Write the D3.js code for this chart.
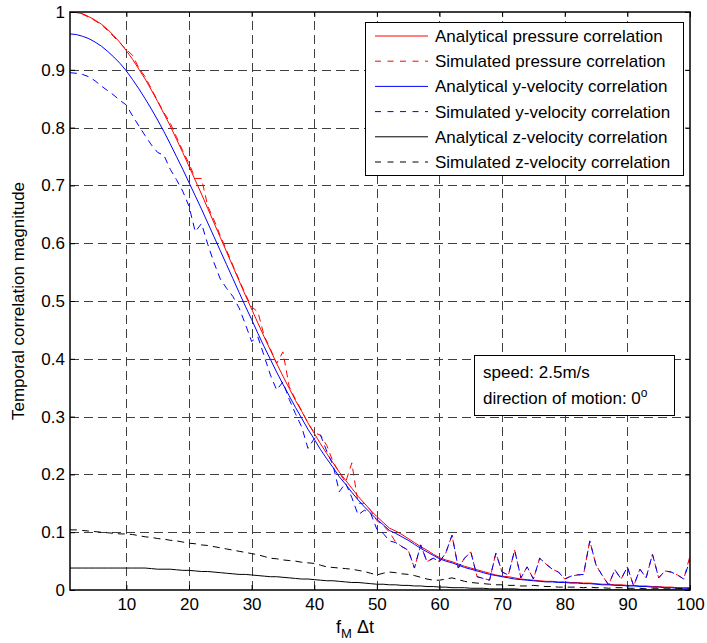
<!DOCTYPE html>
<html><head><meta charset="utf-8">
<script src="https://cdn.jsdelivr.net/npm/d3@7"></script>
<style>
body{margin:0;background:#fff;}
svg{display:block;font-family:"Liberation Sans",Arial,sans-serif;}
</style></head>
<body><svg id="c" width="707" height="643"></svg>
<script>
// ---- data ----
const lags = d3.range(1, 101);
const xTicks = [10,20,30,40,50,60,70,80,90,100];
const yTicks = [0,0.1,0.2,0.3,0.4,0.5,0.6,0.7,0.8,0.9,1];
const yTickLabels = ["0","0.1","0.2","0.3","0.4","0.5","0.6","0.7","0.8","0.9","1"];
const seriesNames = ["Analytical pressure correlation","Simulated pressure correlation","Analytical y-velocity correlation","Simulated y-velocity correlation","Analytical z-velocity correlation","Simulated z-velocity correlation"];

const analyticalPressure = [
1.000,0.999,0.997,0.992,0.986,0.979,0.970,0.959,0.947,0.933,
0.918,0.901,0.884,0.865,0.845,0.824,0.803,0.780,0.757,0.733,
0.709,0.685,0.660,0.635,0.610,0.585,0.560,0.535,0.510,0.486,
0.462,0.438,0.415,0.392,0.370,0.349,0.328,0.309,0.289,0.271,
0.253,0.236,0.220,0.204,0.190,0.176,0.162,0.150,0.138,0.127,
0.117,0.107,0.102,0.096,0.089,0.082,0.075,0.069,0.062,0.056,
0.052,0.049,0.045,0.041,0.038,0.035,0.032,0.029,0.026,0.024,
0.023,0.021,0.019,0.018,0.017,0.016,0.015,0.015,0.014,0.014,
0.013,0.013,0.012,0.012,0.011,0.010,0.010,0.009,0.009,0.008,
0.008,0.007,0.007,0.006,0.006,0.005,0.005,0.004,0.004,0.004];

const simulatedPressure = [
1.000,0.999,0.996,0.991,0.985,0.978,0.968,0.957,0.946,0.935,
0.925,0.903,0.888,0.867,0.846,0.826,0.808,0.784,0.760,0.738,
0.712,0.712,0.664,0.640,0.613,0.588,0.562,0.537,0.512,0.490,
0.481,0.440,0.417,0.392,0.412,0.352,0.330,0.310,0.289,0.272,
0.268,0.250,0.222,0.203,0.186,0.220,0.150,0.150,0.138,0.120,
0.112,0.100,0.083,0.075,0.069,0.038,0.078,0.049,0.055,0.049,
0.064,0.095,0.038,0.055,0.066,0.023,0.020,0.017,0.064,0.031,
0.026,0.069,0.021,0.040,0.019,0.055,0.045,0.036,0.031,0.019,
0.024,0.026,0.027,0.085,0.043,0.025,0.009,0.035,0.019,0.040,
0.007,0.036,0.021,0.062,0.021,0.033,0.031,0.026,0.019,0.059];

const analyticalYVelocity = [
0.962,0.961,0.958,0.954,0.948,0.941,0.932,0.922,0.911,0.898,
0.883,0.867,0.850,0.832,0.813,0.793,0.772,0.750,0.728,0.705,
0.682,0.659,0.635,0.611,0.587,0.563,0.539,0.515,0.491,0.468,
0.444,0.421,0.399,0.377,0.356,0.336,0.316,0.297,0.278,0.261,
0.243,0.227,0.212,0.196,0.183,0.169,0.156,0.144,0.133,0.122,
0.113,0.103,0.098,0.092,0.086,0.079,0.072,0.066,0.060,0.054,
0.050,0.047,0.043,0.039,0.036,0.033,0.030,0.027,0.025,0.023,
0.021,0.019,0.018,0.017,0.016,0.015,0.014,0.014,0.013,0.013,
0.012,0.012,0.011,0.011,0.010,0.009,0.009,0.008,0.008,0.007,
0.007,0.006,0.006,0.005,0.005,0.004,0.004,0.003,0.003,0.003];

const simulatedYVelocity = [
0.895,0.894,0.892,0.888,0.881,0.872,0.864,0.856,0.847,0.839,
0.820,0.803,0.786,0.770,0.757,0.752,0.728,0.710,0.690,0.664,
0.620,0.634,0.598,0.566,0.538,0.522,0.508,0.488,0.460,0.430,
0.438,0.405,0.372,0.346,0.360,0.330,0.305,0.282,0.245,0.262,
0.268,0.240,0.216,0.170,0.185,0.160,0.130,0.138,0.133,0.105,
0.098,0.085,0.082,0.075,0.069,0.038,0.078,0.049,0.055,0.049,
0.064,0.095,0.038,0.055,0.066,0.023,0.020,0.017,0.064,0.031,
0.026,0.069,0.021,0.040,0.019,0.055,0.045,0.036,0.031,0.019,
0.024,0.026,0.027,0.085,0.043,0.025,0.009,0.035,0.019,0.040,
0.007,0.036,0.021,0.062,0.021,0.033,0.031,0.026,0.019,0.052];

const analyticalZVelocity = [
0.038,0.038,0.038,0.038,0.038,0.038,0.038,0.038,0.038,0.038,
0.038,0.038,0.038,0.037,0.036,0.036,0.036,0.035,0.034,0.034,
0.033,0.032,0.032,0.031,0.030,0.029,0.028,0.027,0.027,0.026,
0.025,0.024,0.023,0.023,0.022,0.021,0.020,0.019,0.019,0.018,
0.017,0.016,0.016,0.015,0.014,0.013,0.013,0.012,0.011,0.010,
0.010,0.009,0.009,0.008,0.008,0.007,0.007,0.006,0.006,0.005,
0.005,0.004,0.004,0.004,0.003,0.003,0.003,0.002,0.002,0.002,
0.002,0.002,0.001,0.001,0.001,0.001,0.001,0.001,0.001,0.001,
0.001,0.001,0.001,0.001,0.001,0.000,0.000,0.000,0.000,0.000,
0.000,0.000,0.000,0.000,0.000,0.000,0.000,0.000,0.000,0.000];

const simulatedZVelocity = [
0.104,0.104,0.103,0.102,0.101,0.100,0.099,0.098,0.097,0.097,
0.096,0.094,0.092,0.091,0.089,0.088,0.086,0.085,0.083,0.081,
0.080,0.078,0.077,0.075,0.073,0.071,0.069,0.067,0.065,0.063,
0.061,0.058,0.055,0.054,0.052,0.051,0.050,0.048,0.047,0.046,
0.043,0.040,0.039,0.038,0.037,0.036,0.034,0.032,0.029,0.026,
0.029,0.031,0.030,0.028,0.027,0.025,0.022,0.019,0.017,0.017,
0.019,0.021,0.018,0.015,0.013,0.012,0.011,0.010,0.009,0.009,
0.008,0.008,0.007,0.007,0.008,0.007,0.006,0.006,0.005,0.005,
0.005,0.005,0.004,0.005,0.004,0.004,0.003,0.004,0.004,0.003,
0.003,0.003,0.002,0.003,0.003,0.002,0.002,0.003,0.002,0.002];

// ---- layout ----
const L = 70, R = 690, T = 12, B = 590;
const svg = d3.select("#c");
const x = d3.scaleLinear().domain([1,100]).range([L,R]);
const y = d3.scaleLinear().domain([0,1]).range([B,T]);
const fs = 17;

// grid
const grid = svg.append("g").attr("stroke","#404040").attr("stroke-width",1).attr("stroke-dasharray","9,5");
grid.selectAll(".gx").data(xTicks.filter(d=>d<100)).enter().append("line")
  .attr("x1",d=>Math.round(x(d))+0.5).attr("x2",d=>Math.round(x(d))+0.5).attr("y1",B).attr("y2",T);
grid.selectAll(".gy").data(yTicks.filter(d=>d>0&&d<1)).enter().append("line")
  .attr("y1",d=>Math.round(y(d))+0.5).attr("y2",d=>Math.round(y(d))+0.5).attr("x1",L).attr("x2",R);

// series
const specs = [
 {data:analyticalPressure, color:"#ff0000", dash:null},
 {data:simulatedPressure, color:"#ff0000", dash:"7,5"},
 {data:analyticalYVelocity, color:"#0000ff", dash:null},
 {data:simulatedYVelocity, color:"#0000ff", dash:"7,5"},
 {data:analyticalZVelocity, color:"#000000", dash:null},
 {data:simulatedZVelocity, color:"#000000", dash:"7,5"}
];
const line = d3.line().x((d,i)=>x(lags[i])).y(d=>y(d));
svg.append("clipPath").attr("id","pc").append("rect").attr("x",L).attr("y",T).attr("width",R-L).attr("height",B-T);
const lines = svg.append("g").attr("clip-path","url(#pc)");
specs.forEach(s=>{
  lines.append("path").attr("d",line(s.data)).attr("fill","none")
   .attr("stroke",s.color).attr("stroke-width",1)
   .attr("stroke-dasharray",s.dash);
});

// axes (box + ticks both sides)
const xAxB = d3.axisBottom(x).tickValues(xTicks).tickSizeInner(-5).tickSizeOuter(0).tickPadding(8);
const xAxT = d3.axisTop(x).tickValues(xTicks).tickSizeInner(-5).tickSizeOuter(0).tickFormat("");
const yAxL = d3.axisLeft(y).tickValues(yTicks).tickSizeInner(-5).tickSizeOuter(0).tickPadding(5)
   .tickFormat((d,i)=>yTickLabels[i]);
const yAxR = d3.axisRight(y).tickValues(yTicks).tickSizeInner(-5).tickSizeOuter(0).tickFormat("");
function style(g){
  g.selectAll("path").remove();
  g.selectAll("line").attr("stroke","#000");
  g.selectAll("text").attr("font-size",fs).attr("fill","#000").attr("font-family","Liberation Sans, Arial, sans-serif");
}
svg.append("g").attr("transform",`translate(0,${B})`).call(xAxB).call(style);
svg.append("g").attr("transform",`translate(0,${T})`).call(xAxT).call(style);
svg.append("g").attr("transform",`translate(${L},0)`).call(yAxL).call(style);
svg.append("g").attr("transform",`translate(${R},0)`).call(yAxR).call(style);
svg.append("rect").attr("x",L).attr("y",T).attr("width",R-L).attr("height",B-T)
  .attr("fill","none").attr("stroke","#000").attr("stroke-width",1.5);

// axis labels
svg.append("text").attr("transform",`translate(24,${(T+B)/2}) rotate(-90)`)
  .attr("text-anchor","middle").attr("font-size",17).text("Temporal correlation magnitude");
const xl = svg.append("text").attr("x",355).attr("y",633).attr("text-anchor","middle").attr("font-size",18);
xl.append("tspan").text("f");
xl.append("tspan").attr("font-size",13).attr("dy",5).text("M");
xl.append("tspan").attr("dy",-5).text(" \u0394t");

// legend
const lg = svg.append("g");
lg.append("rect").attr("x",365.5).attr("y",22.5).attr("width",318).attr("height",153)
  .attr("fill","#fff").attr("stroke","#000").attr("stroke-width",1);
seriesNames.forEach((name,i)=>{
  const yy = 36 + i*25.2;
  lg.append("line").attr("x1",375).attr("x2",428).attr("y1",yy).attr("y2",yy)
    .attr("stroke",specs[i].color).attr("stroke-width",1).attr("stroke-dasharray",specs[i].dash?"6,6.5":null);
  lg.append("text").attr("x",435).attr("y",yy).attr("dy","0.35em").attr("font-size",17).text(name);
});

// annotation box
const ab = svg.append("g");
ab.append("rect").attr("x",474.5).attr("y",355.5).attr("width",200).attr("height",60)
  .attr("fill","#fff").attr("stroke","#000").attr("stroke-width",1);
ab.append("text").attr("x",483).attr("y",372).attr("dy","0.35em").attr("font-size",17).text("speed: 2.5m/s");
const t2 = ab.append("text").attr("x",483).attr("y",398).attr("dy","0.35em").attr("font-size",17);
t2.append("tspan").text("direction of motion: 0");
t2.append("tspan").attr("font-size",12).attr("dy",-7).text("o");
</script></body></html>
